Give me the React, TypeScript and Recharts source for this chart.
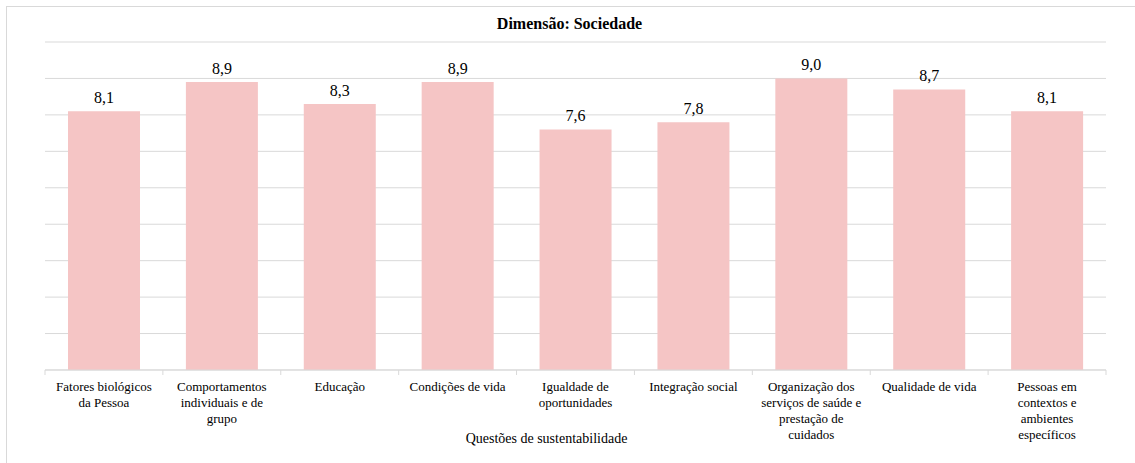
import { BarChart, Bar, XAxis, YAxis, CartesianGrid, LabelList } from "recharts";

const categories = [
  "Fatores biológicos\nda Pessoa",
  "Comportamentos\nindividuais e de\ngrupo",
  "Educação",
  "Condições de vida",
  "Igualdade de\noportunidades",
  "Integração social",
  "Organização dos\nserviços de saúde e\nprestação de\ncuidados",
  "Qualidade de vida",
  "Pessoas em\ncontextos e\nambientes\nespecíficos",
];
const scores = [8.1, 8.9, 8.3, 8.9, 7.6, 7.8, 9.0, 8.7, 8.1];
const yTicks = [1, 2, 3, 4, 5, 6, 7, 8, 9, 10];

const TITLE = "Dimensão: Sociedade";
const X_TITLE = "Questões de sustentabilidade";

const W = 1135;
const H = 463;
const M = { top: 42, right: 29, left: 45, bottom: 0 };
const BAND = (W - M.left - M.right) / categories.length;
const FONT = "Liberation Serif";
const GRID = "#d9d9d9";

const data = categories.map((name, i) => ({ name, score: scores[i] }));

// category label split on \n, plus tick marks on the band edges
function CategoryTick(props: any) {
  const { x, y, payload, index } = props;
  const lines = String(payload.value).split("\n");
  const last = index === categories.length - 1;
  return (
    <g>
      <line x1={x - BAND / 2} x2={x - BAND / 2} y1={y} y2={y + 5} stroke={GRID} />
      {last && <line x1={x + BAND / 2} x2={x + BAND / 2} y1={y} y2={y + 5} stroke={GRID} />}
      <text x={x} y={y + 21} textAnchor="middle" fontFamily={FONT} fontSize={13} fill="#000">
        {lines.map((l, i) => (
          <tspan key={i} x={x} dy={i === 0 ? 0 : 16}>
            {l}
          </tspan>
        ))}
      </text>
    </g>
  );
}

const fmt = (v: any) => Number(v).toFixed(1).replace(".", ",");

export default function App() {
  return (
    <div className="chart-root" style={{ position: "absolute", left: 0, top: 0, width: W, height: H, background: "#fff", overflow: "hidden", fontFamily: FONT }}>
      <style>{`.chart-root, .chart-root * { font-family: "Liberation Serif" !important; }`}</style>
      <div
        style={{
          position: "absolute",
          left: 6,
          top: 6,
          width: W,
          height: H,
          border: `1px solid ${GRID}`,
        }}
      />
      <div
        style={{
          position: "absolute",
          left: 0,
          width: W,
          top: 15,
          textAlign: "center",
          fontFamily: FONT,
          fontWeight: "bold",
          fontSize: 16,
          lineHeight: "18px",
          color: "#000",
          paddingLeft: 4,
          boxSizing: "border-box",
        }}
      >
        {TITLE}
      </div>
      <div style={{ position: "absolute", left: 0, top: 0 }}>
        <BarChart width={W} height={H} data={data} margin={M} barSize={72}>
          <CartesianGrid vertical={false} stroke={GRID} />
          <YAxis hide domain={[1, 10]} ticks={yTicks} />
          <XAxis
            dataKey="name"
            interval={0}
            height={93}
            tickSize={0}
            tickMargin={0}
            axisLine={{ stroke: GRID }}
            tick={<CategoryTick />}
            label={{
              value: X_TITLE,
              position: "insideBottom",
              offset: 20,
              dx: -29,
              fontFamily: FONT,
              fontSize: 14,
              fill: "#000",
            }}
          />
          <Bar dataKey="score" fill="#f5c5c5" isAnimationActive={false}>
            <LabelList
              dataKey="score"
              position="top"
              offset={8}
              formatter={fmt}
              style={{ fontFamily: FONT, fontSize: 16, fill: "#000" }}
            />
          </Bar>
        </BarChart>
      </div>
    </div>
  );
}
